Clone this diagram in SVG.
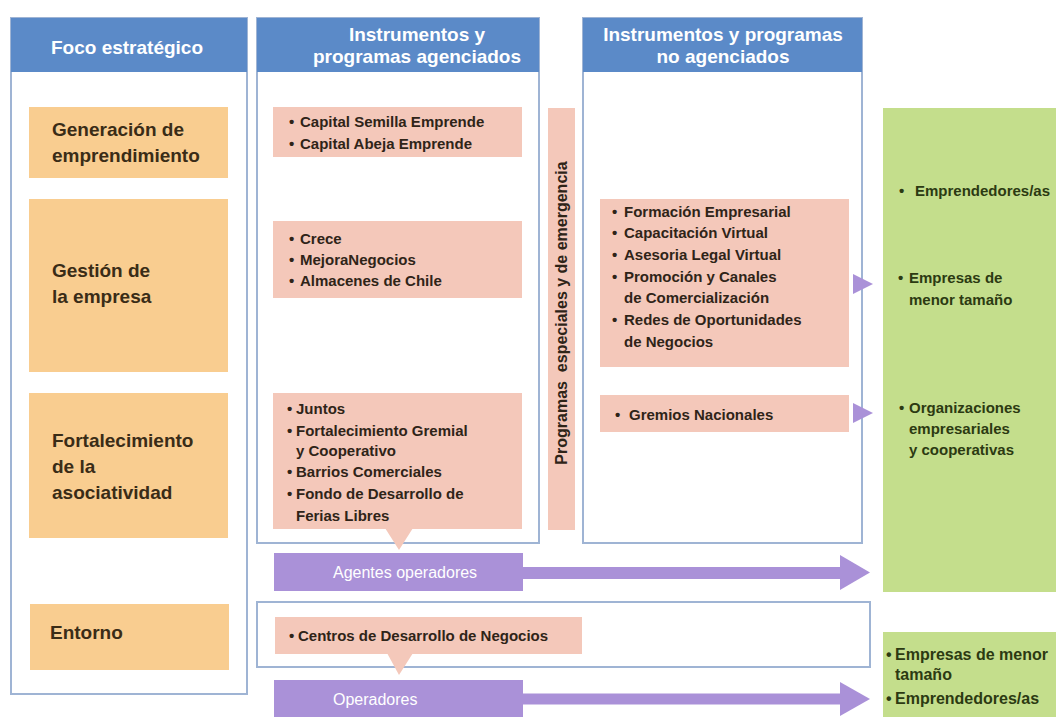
<svg xmlns="http://www.w3.org/2000/svg" width="1056" height="717" viewBox="0 0 1056 717">
<style>
text{font-family:"Liberation Sans",Arial,sans-serif}
.col{fill:#fff;stroke:#9FB4D4;stroke-width:2}
.hdr{fill:#5B8AC8}
.hdrt{font-weight:bold;font-size:19px;fill:#fff;text-anchor:middle}
.foc{fill:#F9CD90}
.foct{font-weight:bold;font-size:19px;fill:#3A2C17}
.pk{fill:#F4C8BA}
.pkt{font-weight:bold;font-size:15px;fill:#2F2418}
.gr{fill:#C4DE8C}
.grt{font-weight:bold;font-size:15px;fill:#2C3A12}
.grt2{font-weight:bold;font-size:16px;fill:#2C3A12}
.pu{fill:#AA91D8}
.put{font-size:16px;fill:#fff}
.shaft{stroke:#AA91D8;fill:none}
.head{fill:#AA91D8}
.ptr{fill:#F4C8BA}
</style>
<rect width="1056" height="717" fill="#fff"/>

<g id="col-foco">
<rect class="col" x="11" y="18" width="236" height="676"/>
<rect class="hdr" x="11" y="18" width="236" height="54"/>
<text class="hdrt" x="127" y="54">Foco estratégico</text>
</g>
<g id="col-agenciados">
<rect class="col" x="257" y="18" width="282" height="525"/>
<rect class="hdr" x="257" y="18" width="282" height="54"/>
<text class="hdrt" x="417" y="41">Instrumentos y</text>
<text class="hdrt" x="417" y="63">programas agenciados</text>
</g>
<g id="col-no-agenciados">
<rect class="col" x="583" y="18" width="279" height="525"/>
<rect class="hdr" x="583" y="18" width="279" height="54"/>
<text class="hdrt" x="723" y="41">Instrumentos y programas</text>
<text class="hdrt" x="723" y="63">no agenciados</text>
</g>
<g id="entorno-box">
<rect class="col" x="257" y="602" width="613" height="65"/>
</g>

<g id="foco-generacion">
<rect class="foc" x="29" y="107" width="199" height="71"/>
<text class="foct" x="52" y="136">Generación de</text>
<text class="foct" x="52" y="162">emprendimiento</text>
</g>
<g id="foco-gestion">
<rect class="foc" x="29" y="199" width="199" height="173"/>
<text class="foct" x="52" y="277">Gestión de</text>
<text class="foct" x="52" y="303">la empresa</text>
</g>
<g id="foco-asociatividad">
<rect class="foc" x="29" y="393" width="199" height="145"/>
<text class="foct" x="52" y="447">Fortalecimiento</text>
<text class="foct" x="52" y="473">de la</text>
<text class="foct" x="52" y="499">asociatividad</text>
</g>
<g id="foco-entorno">
<rect class="foc" x="30" y="604" width="199" height="66"/>
<text class="foct" x="50" y="639">Entorno</text>
</g>

<g id="prog-capital">
<rect class="pk" x="273" y="107" width="249" height="50"/>
<text class="pkt" y="127"><tspan x="289">•</tspan><tspan x="300">Capital Semilla Emprende</tspan></text>
<text class="pkt" y="149"><tspan x="289">•</tspan><tspan x="300">Capital Abeja Emprende</tspan></text>
</g>
<g id="prog-crece">
<rect class="pk" x="273" y="221" width="249" height="77"/>
<text class="pkt" y="244"><tspan x="289">•</tspan><tspan x="300">Crece</tspan></text>
<text class="pkt" y="265"><tspan x="289">•</tspan><tspan x="300">MejoraNegocios</tspan></text>
<text class="pkt" y="286"><tspan x="289">•</tspan><tspan x="300">Almacenes de Chile</tspan></text>
</g>
<g id="prog-juntos">
<rect class="pk" x="273" y="393" width="249" height="136"/>
<text class="pkt" y="414"><tspan x="287">•</tspan><tspan x="296">Juntos</tspan></text>
<text class="pkt" y="436"><tspan x="287">•</tspan><tspan x="296">Fortalecimiento Gremial</tspan></text>
<text class="pkt" x="296" y="456">y Cooperativo</text>
<text class="pkt" y="477"><tspan x="287">•</tspan><tspan x="296">Barrios Comerciales</tspan></text>
<text class="pkt" y="499"><tspan x="287">•</tspan><tspan x="296">Fondo de Desarrollo de</tspan></text>
<text class="pkt" x="296" y="521">Ferias Libres</text>
</g>
<g id="prog-especiales">
<rect class="pk" x="548" y="108" width="27" height="422"/>
<text class="pkt" xml:space="preserve" transform="translate(561,313) rotate(-90)" x="0" y="5.5" text-anchor="middle" style="font-size:16px">Programas  especiales y de emergencia</text>
</g>
<g id="prog-formacion">
<rect class="pk" x="600" y="199" width="249" height="168"/>
<text class="pkt" y="217"><tspan x="612">•</tspan><tspan x="624">Formación Empresarial</tspan></text>
<text class="pkt" y="238"><tspan x="612">•</tspan><tspan x="624">Capacitación Virtual</tspan></text>
<text class="pkt" y="260"><tspan x="612">•</tspan><tspan x="624">Asesoria Legal Virtual</tspan></text>
<text class="pkt" y="282"><tspan x="612">•</tspan><tspan x="624">Promoción y Canales</tspan></text>
<text class="pkt" x="624" y="303">de Comercialización</text>
<text class="pkt" y="325"><tspan x="612">•</tspan><tspan x="624">Redes de Oportunidades</tspan></text>
<text class="pkt" x="624" y="347">de Negocios</text>
</g>
<g id="prog-gremios">
<rect class="pk" x="600" y="395" width="249" height="37"/>
<text class="pkt" y="420"><tspan x="615">•</tspan><tspan x="629">Gremios Nacionales</tspan></text>
</g>
<g id="prog-centros">
<rect class="pk" x="275" y="617" width="307" height="37"/>
<text class="pkt" y="641"><tspan x="289">•</tspan><tspan x="298">Centros de Desarrollo de Negocios</tspan></text>
</g>

<g id="agentes-operadores">
<rect class="pu" x="274" y="553" width="249" height="38"/>
<text class="put" x="333" y="578">Agentes operadores</text>
</g>
<g id="operadores">
<rect class="pu" x="274" y="680" width="249" height="37"/>
<text class="put" x="333" y="705">Operadores</text>
</g>

<g id="beneficiarios">
<rect class="gr" x="883" y="108" width="173" height="484"/>
<text class="grt" y="196"><tspan x="899">•</tspan><tspan x="915">Emprendedores/as</tspan></text>
<text class="grt" y="283"><tspan x="898">•</tspan><tspan x="909">Empresas de</tspan></text>
<text class="grt" x="909" y="305">menor tamaño</text>
<text class="grt" y="413"><tspan x="899">•</tspan><tspan x="909">Organizaciones</tspan></text>
<text class="grt" x="909" y="434">empresariales</text>
<text class="grt" x="909" y="455">y cooperativas</text>
</g>
<g id="beneficiarios-entorno">
<rect class="gr" x="883" y="632" width="173" height="85"/>
<text class="grt2" y="660"><tspan x="886">•</tspan><tspan x="895">Empresas de menor</tspan></text>
<text class="grt2" x="895" y="680">tamaño</text>
<text class="grt2" y="704"><tspan x="886">•</tspan><tspan x="895">Emprendedores/as</tspan></text>
</g>

<g id="connectors">
<polygon class="ptr" points="385,528 413,528 399,550"/>
<polygon class="ptr" points="387,653 413,653 399,675"/>
<line class="shaft" x1="523" y1="573" x2="842" y2="573" stroke-width="12"/>
<polygon class="head" points="840,555 870,572.5 840,590"/>
<line class="shaft" x1="523" y1="699" x2="842" y2="699" stroke-width="11"/>
<polygon class="head" points="840,682 870,699 840,716"/>
<polygon class="head" points="853,274 873,284 853,294"/>
<polygon class="head" points="853,403 873,413 853,423"/>
</g>
</svg>
